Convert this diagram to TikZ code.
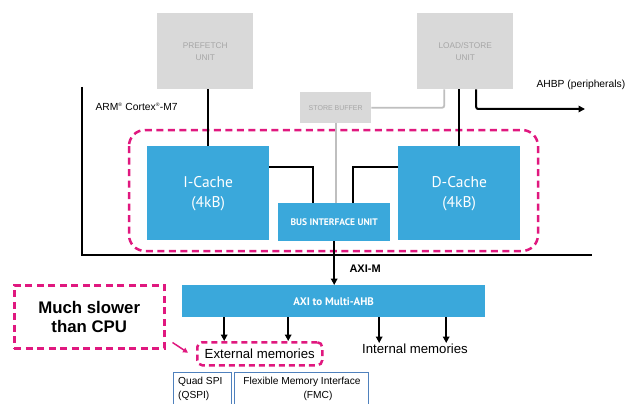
\documentclass[tikz,border=0pt]{standalone}
\usepackage{fontspec}
\setmainfont{Liberation Sans}
\newfontfamily\boxfont{PT Sans}
\usetikzlibrary{arrows.meta}
\definecolor{cblue}{HTML}{3AA8DB}
\definecolor{cgray}{HTML}{D9D9D9}
\definecolor{cgtext}{HTML}{A6A6A6}
\definecolor{cgline}{HTML}{BFBFBF}
\definecolor{cpink}{HTML}{E0187F}
\definecolor{cframe}{HTML}{4F81BD}
\begin{document}
\begin{tikzpicture}[x=1pt,y=-1pt,
  graybox/.style={fill=cgray,draw=none,anchor=north west,inner sep=0pt,align=center,text=cgtext,font=\fontsize{8.3}{11}\selectfont},
  bluebox/.style={fill=cblue,draw=none,anchor=north west,inner sep=0pt,align=center,text=white,font=\boxfont},
  conn/.style={line width=2pt,black},
  gconn/.style={line width=1.8pt,cgline},
  tip/.style={-{Triangle[length=6.5pt,width=6.5pt]}},
  pinkdash/.style={draw=cpink,line width=2.5pt,dash pattern=on 7pt off 4.5pt},
  membox/.style={draw=cframe,line width=0.8pt,anchor=north west,inner sep=3pt}
]
\clip (0,0) rectangle (627,404);
\fill[white] (0,0) rectangle (627,404);

% frame
\draw[line width=1.2pt] (82,87) |- (592,255);
\node[anchor=west,font=\fontsize{10.3}{12}\selectfont] (arm) at (92,107) {ARM\textsuperscript{\tiny\textregistered} Cortex\textsuperscript{\tiny\textregistered}-M7};

% gray units
\node[graybox,minimum width=96pt,minimum height=76pt] (pf) at (157,13) {PREFETCH\\[1pt]UNIT};
\node[graybox,minimum width=96pt,minimum height=76pt] (ls) at (417,13) {LOAD/STORE\\[1pt]UNIT};
\node[graybox,minimum width=71pt,minimum height=31pt,font=\fontsize{7}{9}\selectfont] (sb) at (300,92) {STORE BUFFER};

% pink dashed cache region
\draw[pinkdash,rounded corners=16pt] (129,130) rectangle (538,251);

% blue boxes
\node[bluebox,minimum width=122pt,minimum height=94pt,font=\boxfont\fontsize{15.5}{20}\selectfont] (ic) at (147,146) {I-Cache\\(4kB)};
\node[bluebox,minimum width=122pt,minimum height=94pt,font=\boxfont\fontsize{15.5}{20}\selectfont] (dc) at (398,146) {D-Cache\\(4kB)};
\node[bluebox,minimum width=112pt,minimum height=38pt,font=\boxfont\bfseries\fontsize{9.5}{11}\selectfont] (biu) at (278,203) {BUS INTERFACE UNIT};
\node[bluebox,minimum width=303pt,minimum height=32pt,font=\boxfont\bfseries\fontsize{11}{13}\selectfont] (axi) at (182,285) {AXI to Multi-AHB};

% connectors
\draw[conn] (ic.north |- pf.south) -- (ic.north);
\draw[conn] (dc.north |- ls.south) -- (dc.north);
\coordinate (ahbp) at (585,109);
\draw[conn,tip,rounded corners=2pt] ([xshift=11pt]ls.south) |- (ahbp);
\node[anchor=south west,font=\fontsize{10.3}{12}\selectfont] (ahbptxt) at (533,93) {AHBP (peripherals)};
\draw[gconn,rounded corners=2pt] ([xshift=-21pt]ls.south) |- (sb.east);
\draw[gconn] (sb.south) -- (sb.south |- biu.north);
\draw[conn] ([yshift=-21pt]ic.north east) -| ([xshift=-21pt]biu.north);
\draw[conn] ([yshift=-21pt]dc.north west) -| ([xshift=19pt]biu.north);
\draw[conn,tip] (biu.south) -- (biu.south |- axi.north);
\node[anchor=west,font=\bfseries\fontsize{11}{13}\selectfont] (axim) at (346,269) {AXI-M};

% memories
\node[draw=cpink,line width=2.5pt,dash pattern=on 6pt off 4pt,rounded corners=5pt,anchor=north west,minimum width=125pt,minimum height=23pt,inner sep=0pt,font=\fontsize{13.2}{15}\selectfont] (ext) at (196,341) {External memories};
\node[anchor=north,font=\fontsize{13.2}{15}\selectfont,inner sep=1pt] (intm) at (415,343) {Internal memories};

\draw[conn,tip] ([xshift=-109.5pt]axi.south) -- ([xshift=-109.5pt]axi.south |- ext.north);
\draw[conn,tip] ([xshift=-45.5pt]axi.south) -- ([xshift=-45.5pt]axi.south |- ext.north);
\draw[conn,tip] ([xshift=45.5pt]axi.south) -- ([xshift=45.5pt]axi.south |- intm.north);
\draw[conn,tip] ([xshift=112.5pt]axi.south) -- ([xshift=112.5pt]axi.south |- intm.north);

% slow note
\node[draw=cpink,line width=2.5pt,dash pattern=on 7pt off 4.5pt,anchor=north west,minimum width=150pt,minimum height=63pt,inner sep=0pt,align=center,font=\bfseries\fontsize{16.8}{19.5}\selectfont] (slow) at (13,284) {Much slower\\than CPU};
\draw[cpink,line width=1.5pt,-{Triangle[length=5pt,width=5pt]}] ([xshift=7pt,yshift=7pt]slow.south east) -- ([xshift=-8pt,yshift=1pt]ext.west);

% interface boxes
\node[membox,minimum width=58pt,minimum height=40pt] (qspi) at (173,372) {};
\node[anchor=north west,align=left,font=\fontsize{10.2}{13.5}\selectfont,inner sep=0pt] (qspit) at (178,377) {Quad SPI\\(QSPI)};
\node[membox,minimum width=134pt,minimum height=40pt] (fmc) at (234,372) {};
\node[anchor=north,align=center,font=\fontsize{10.2}{13.5}\selectfont,inner sep=0pt] (fmct) at (302,377) {Flexible Memory Interface\\\hspace*{32pt}(FMC)};
\end{tikzpicture}
\end{document}
